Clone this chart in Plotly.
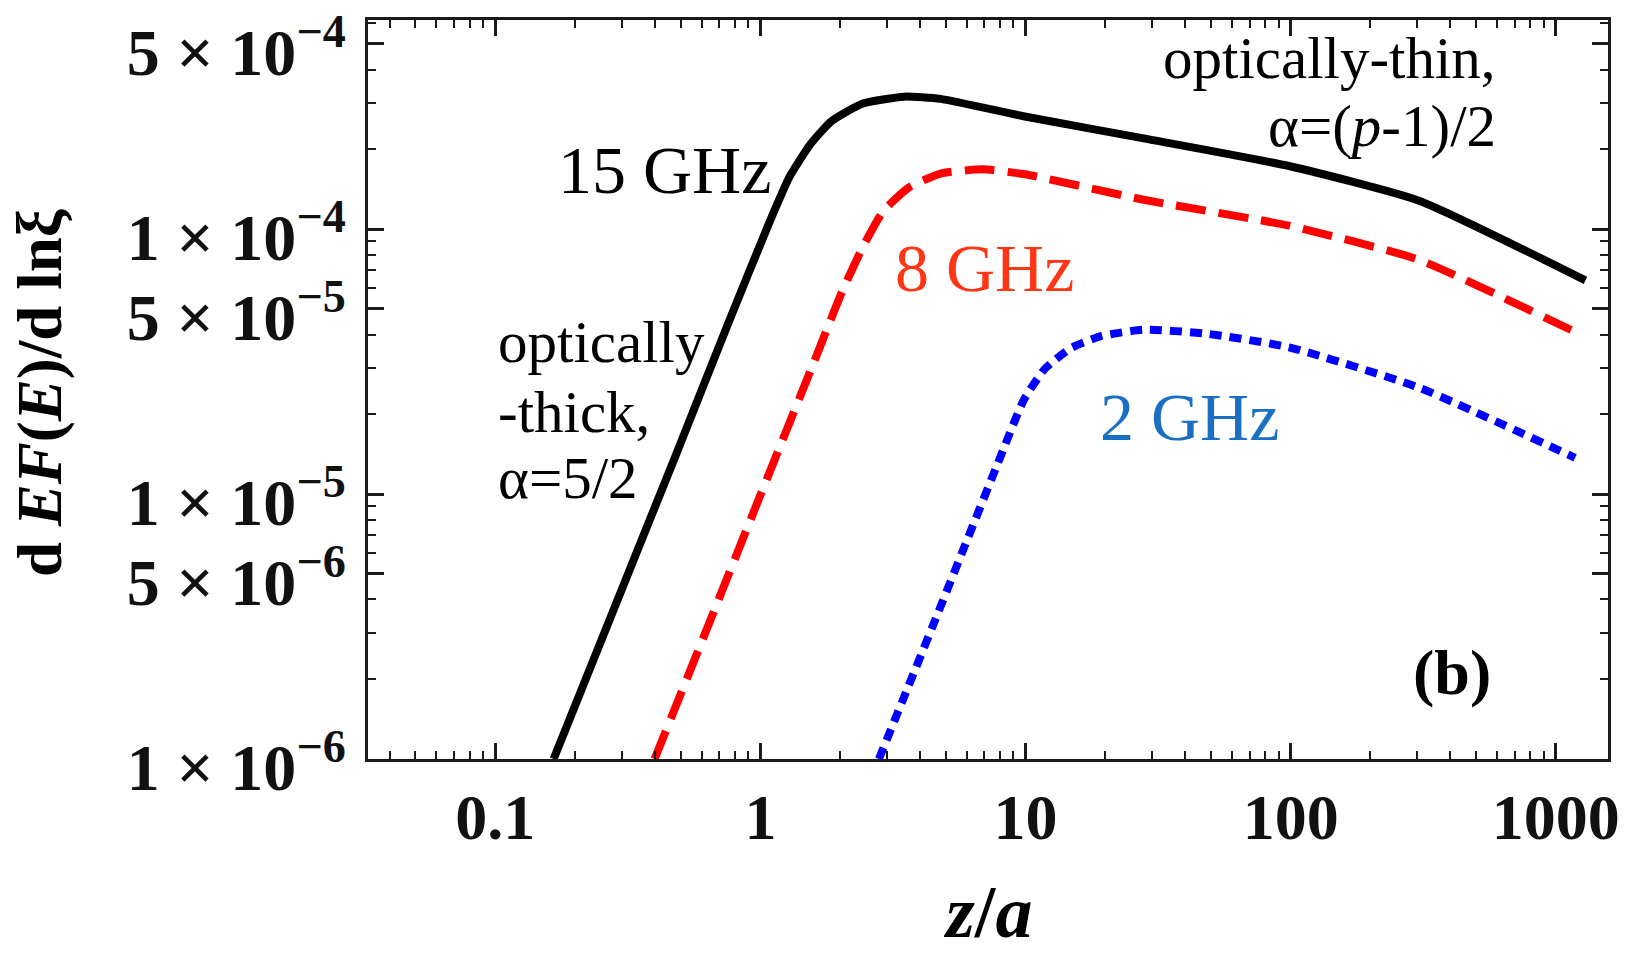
import plotly.graph_objects as go

# ---- data (z/a, dEF(E)/dln xi) ----
z_15 = [0.166, 0.304, 0.478, 0.750, 1.077, 1.29, 1.55, 1.85, 2.42, 3.48, 4.78, 9.94, 27.9, 98.6, 305, 1294]
f_15 = [1.0e-6, 4.51e-6, 1.39e-5, 4.32e-5, 1.05e-4, 1.58e-4, 2.10e-4, 2.55e-4, 2.97e-4, 3.16e-4, 3.10e-4,
        2.66e-4, 2.20e-4, 1.73e-4, 1.28e-4, 6.40e-5]

z_8 = [0.399, 0.626, 0.984, 1.55, 2.03, 2.43, 2.91, 3.65, 4.78, 6.86, 9.94, 27.9, 98.6, 305, 1239]
f_8 = [1.0e-6, 3.07e-6, 9.51e-6, 2.94e-5, 5.78e-5, 8.53e-5, 1.17e-4, 1.44e-4, 1.62e-4, 1.68e-4, 1.61e-4,
       1.29e-4, 1.03e-4, 7.65e-5, 4.00e-5]

z_2 = [2.80, 3.48, 4.57, 5.99, 7.85, 9.84, 11.8, 14.8, 19.4, 27.9, 47.9, 98.6, 305, 1183]
f_2 = [1.0e-6, 1.71e-6, 3.36e-6, 6.62e-6, 1.30e-5, 2.26e-5, 2.96e-5, 3.55e-5, 3.95e-5, 4.17e-5, 4.03e-5,
       3.58e-5, 2.52e-5, 1.37e-5]

x_tickvals = [0.1, 1, 10, 100, 1000]
x_ticktext = ["0.1", "1", "10", "100", "1000"]
y_tickvals = [1e-6, 5e-6, 1e-5, 5e-5, 1e-4, 5e-4]
y_ticktext = ["1 × 10<sup>−6</sup>", "5 × 10<sup>−6</sup>", "1 × 10<sup>−5</sup>",
              "5 × 10<sup>−5</sup>", "1 × 10<sup>−4</sup>", "5 × 10<sup>−4</sup>"]

minor_x = [m * 10 ** e for e in range(-2, 4) for m in range(2, 10)]
minor_y = [m * 10 ** e for e in range(-7, -2) for m in range(2, 10)]

W, H = 1630, 955
L, R, T, B = 368, 22, 20, 196
PW, PH = W - L - R, H - T - B


def px(x):
    return (x - L) / PW


def py(y):
    return (H - B - y) / PH


SERIF = "Liberation Serif"

fig = go.Figure()
fig.add_trace(go.Scatter(x=z_15, y=f_15, mode="lines",
                         line=dict(color="#000000", width=8, shape="spline", smoothing=0.5), name="15 GHz"))
fig.add_trace(go.Scatter(x=z_8, y=f_8, mode="lines",
                         line=dict(color="#ff0000", width=8, dash="30px,13px", shape="spline", smoothing=0.5),
                         name="8 GHz"))
fig.add_trace(go.Scatter(x=z_2, y=f_2, mode="lines",
                         line=dict(color="#0000ff", width=8, dash="12px,8px", shape="spline", smoothing=0.5),
                         name="2 GHz"))

axis_common = dict(
    type="log", showgrid=False, zeroline=False, showline=True, linecolor="#1a1a1a", linewidth=3,
    mirror="allticks", ticks="inside", tickwidth=2.5, tickcolor="#1a1a1a", ticklen=16,
    tickmode="array",
)

fig.update_xaxes(**axis_common, range=[-1.48, 3.197], tickvals=x_tickvals, ticktext=x_ticktext,
                 tickfont=dict(family=SERIF, size=64, color="#111111", weight="bold"),
                 ticklabelstandoff=0,
                 minor=dict(tickmode="array", tickvals=minor_x, ticks="inside", ticklen=8,
                            tickwidth=2, tickcolor="#1a1a1a"))
fig.update_yaxes(**axis_common, range=[-6, -3.211], tickvals=y_tickvals, ticktext=y_ticktext,
                 tickfont=dict(family=SERIF, size=66, color="#111111", weight="bold"),
                 ticklabelstandoff=6, ticklabelshift=8,
                 minor=dict(tickmode="array", tickvals=minor_y, ticks="inside", ticklen=8,
                            tickwidth=2, tickcolor="#1a1a1a"))

ann = []


def add(text, x, y, size, color="#000000", xanchor="center", yanchor="middle", bold=False, italic=False,
        angle=0):
    ann.append(dict(text=text, x=px(x), y=py(y), xref="paper", yref="paper", showarrow=False,
                    xanchor=xanchor, yanchor=yanchor, textangle=angle,
                    font=dict(family=SERIF, size=size, color=color,
                              weight="bold" if bold else "normal",
                              style="italic" if italic else "normal")))


add("15 GHz", 664, 170, 68)
add("8 GHz", 984, 268, 68, color="#ff3514")
add("2 GHz", 1189, 417, 68, color="#1b6fc2")
add("optically", 496, 342, 59, xanchor="left")
add("-thick,", 496, 412, 59, xanchor="left")
add("α=5/2", 496, 478, 59, xanchor="left")
add("optically-thin,", 1498, 58, 59, xanchor="right")
add("α=(<i>p</i>-1)/2", 1498, 126, 59, xanchor="right")
add("(b)", 1452, 672, 64, bold=True)
add("<i>z</i>/<i>a</i>", 987, 955, 74, bold=True, yanchor="bottom")
add("d <i>EF</i>(<i>E</i>)/d lnξ", 40, 393, 63, bold=True, angle=-90)

fig.update_layout(
    width=W, height=H, margin=dict(l=L, r=R, t=T, b=B, autoexpand=False),
    paper_bgcolor="white", plot_bgcolor="white", showlegend=False,
    annotations=ann,
)

fig.write_html("out.html", config={"displayModeBar": False},
               post_script="document.body.style.margin='0px';document.body.style.padding='0px';")
